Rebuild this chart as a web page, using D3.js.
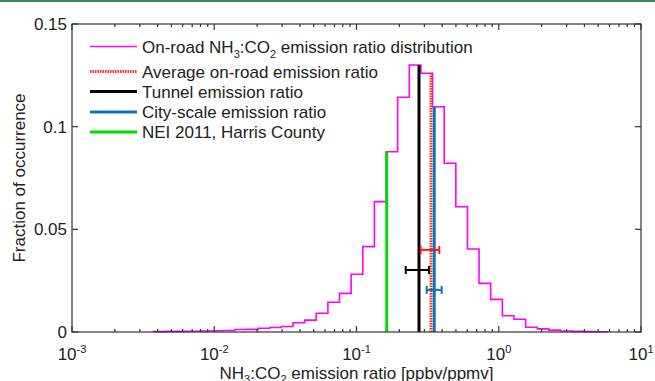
<!DOCTYPE html>
<html lang="en">
<head>
    <meta charset="UTF-8">
    <title>NH3:CO2 emission ratio distribution</title>
    <script src="https://d3js.org/d3.v7.min.js"></script>
    <style>
        body {
            margin: 0;
            background: #fff;
            font-family: "Liberation Sans", Arial, sans-serif;
        }
        svg text {
            fill: #222;
        }
    </style>
</head>
<body>
    <svg id="chart" width="655" height="381"></svg>

    <script>
        const width = 655, height = 381;
        const margin = {top: 24, right: 14, bottom: 49, left: 72};
        const fs = 17;

        // histogram bin edges (ppbv/ppmv) and fraction in each bin
        const binEdges = [0.003736, 0.004511, 0.005445, 0.006573, 0.007934, 0.009578, 0.011562,
            0.013957, 0.016847, 0.020337, 0.024550, 0.029636, 0.035774, 0.043185, 0.052129,
            0.062927, 0.075960, 0.091693, 0.110684, 0.133610, 0.161283, 0.194684, 0.235014,
            0.283792, 0.342530, 0.413571, 0.499190, 0.602560, 0.727290, 0.878001, 1.0600,
            1.2794, 1.5448, 1.8646, 2.2508, 2.7164, 3.2803, 3.9593, 4.7785, 5.7689];
        const fractions = [0.0002, 0.0003, 0.0003, 0.0004, 0.0005, 0.0006, 0.0007, 0.0012,
            0.0013, 0.0018, 0.0022, 0.0027, 0.0045, 0.0058, 0.0091, 0.0145, 0.0188, 0.0281,
            0.0416, 0.0635, 0.0878, 0.1143, 0.1300, 0.1260, 0.1097, 0.0822, 0.0610, 0.0404,
            0.0237, 0.0159, 0.0079, 0.0062, 0.0023, 0.0015, 0.0009, 0.0005, 0.0003, 0.0002, 0.0001];

        // reference ratios (vertical lines) and their ranges (error bars)
        const refLines = [
            {name: "NEI 2011, Harris County", value: 0.163, color: "#00dd00"},
            {name: "Tunnel emission ratio", value: 0.275, color: "#000000"},
            {name: "Average on-road emission ratio", value: 0.334, color: "#ff2a2a", dash: "1.5,1"},
            {name: "City-scale emission ratio", value: 0.352, color: "#0b72bd"}
        ];
        const errorBars = [
            {lo: 0.2827, hi: 0.382, y: 0.0400, color: "#ff1a1a"},
            {lo: 0.2218, hi: 0.3233, y: 0.0302, color: "#000000"},
            {lo: 0.3114, hi: 0.397, y: 0.0205, color: "#0b72bd"}
        ];

        const xTicks = [1e-3, 1e-2, 1e-1, 1e0, 1e1];
        const yTicks = [0, 0.05, 0.1, 0.15];

        const svg = d3.select("#chart");

        // thin green band at the top of the page
        svg.append("rect").attr("x", 0).attr("y", 0).attr("width", width).attr("height", 2)
            .attr("fill", "#3b8a5c");

        const x = d3.scaleLog().domain([1e-3, 10]).range([margin.left, width - margin.right]);
        const y = d3.scaleLinear().domain([0, 0.15]).range([height - margin.bottom, margin.top]);
        const x0 = x.range()[0], x1 = x.range()[1];
        const y0 = y.range()[0], y1 = y.range()[1];

        // histogram as a step line
        const stepPts = [[binEdges[0], 0]];
        fractions.forEach((f, i) => stepPts.push([binEdges[i], f]));
        stepPts.push([binEdges[binEdges.length - 1], fractions[fractions.length - 1]]);
        stepPts.push([binEdges[binEdges.length - 1], 0]);
        const step = d3.line().x(d => x(d[0])).y(d => y(d[1])).curve(d3.curveStepAfter);
        svg.append("path").datum(stepPts)
            .attr("d", step).attr("fill", "none")
            .attr("stroke", "#ff00ff").attr("stroke-width", 1.6);

        function histAt(v) {
            for (let i = 0; i < fractions.length; i++) {
                if (v >= binEdges[i] && v < binEdges[i + 1]) return fractions[i];
            }
            return 0;
        }

        // vertical reference lines
        svg.selectAll(".ref").data(refLines).join("line")
            .attr("class", "ref")
            .attr("x1", d => x(d.value)).attr("x2", d => x(d.value))
            .attr("y1", y(0)).attr("y2", d => y(histAt(d.value)))
            .attr("stroke", d => d.color).attr("stroke-width", 3)
            .attr("stroke-dasharray", d => d.dash || null);

        // horizontal error bars
        const eb = svg.selectAll(".eb").data(errorBars).join("g").attr("class", "eb")
            .attr("stroke", d => d.color).attr("stroke-width", 2);
        eb.append("line").attr("x1", d => x(d.lo)).attr("x2", d => x(d.hi))
            .attr("y1", d => y(d.y)).attr("y2", d => y(d.y));
        eb.append("line").attr("x1", d => x(d.lo)).attr("x2", d => x(d.lo))
            .attr("y1", d => y(d.y) - 4).attr("y2", d => y(d.y) + 4);
        eb.append("line").attr("x1", d => x(d.hi)).attr("x2", d => x(d.hi))
            .attr("y1", d => y(d.y) - 4).attr("y2", d => y(d.y) + 4);

        // axes box with inward ticks
        const axisCol = "#333";
        svg.append("rect").attr("x", x0).attr("y", y1).attr("width", x1 - x0).attr("height", y0 - y1)
            .attr("fill", "none").attr("stroke", axisCol).attr("stroke-width", 1.2);

        const minor = [];
        for (let e = -3; e < 1; e++) {
            for (let m = 2; m <= 9; m++) minor.push(m * Math.pow(10, e));
        }
        const tk = svg.append("g").attr("stroke", axisCol).attr("stroke-width", 1.2);
        xTicks.forEach(t => {
            tk.append("line").attr("x1", x(t)).attr("x2", x(t)).attr("y1", y0).attr("y2", y0 - 6);
            tk.append("line").attr("x1", x(t)).attr("x2", x(t)).attr("y1", y1).attr("y2", y1 + 6);
        });
        minor.forEach(t => {
            tk.append("line").attr("x1", x(t)).attr("x2", x(t)).attr("y1", y0).attr("y2", y0 - 3);
            tk.append("line").attr("x1", x(t)).attr("x2", x(t)).attr("y1", y1).attr("y2", y1 + 3);
        });
        yTicks.forEach(t => {
            tk.append("line").attr("x1", x0).attr("x2", x0 + 6).attr("y1", y(t)).attr("y2", y(t));
            tk.append("line").attr("x1", x1).attr("x2", x1 - 6).attr("y1", y(t)).attr("y2", y(t));
        });

        // tick labels
        svg.selectAll(".ylab").data(yTicks).join("text")
            .attr("class", "ylab")
            .attr("x", x0 - 5).attr("y", d => y(d) + 6)
            .attr("text-anchor", "end").attr("font-size", fs)
            .text(d => d === 0 ? "0" : String(d));

        const xl = svg.selectAll(".xlab").data(xTicks).join("text")
            .attr("class", "xlab")
            .attr("x", d => x(d)).attr("y", y0 + 28)
            .attr("text-anchor", "middle").attr("font-size", fs);
        xl.append("tspan").text("10");
        xl.append("tspan").attr("dy", -7).attr("font-size", 11)
            .text(d => String(Math.round(Math.log10(d))));

        // axis titles
        const xt = svg.append("text").attr("x", (x0 + x1) / 2).attr("y", y0 + 47)
            .attr("text-anchor", "middle").attr("font-size", fs);
        xt.append("tspan").text("NH");
        xt.append("tspan").attr("dy", 4).attr("font-size", 11).text("3");
        xt.append("tspan").attr("dy", -4).text(":CO");
        xt.append("tspan").attr("dy", 4).attr("font-size", 11).text("2");
        xt.append("tspan").attr("dy", -4).text(" emission ratio [ppbv/ppmv]");

        svg.append("text")
            .attr("transform", `translate(25,${(y0 + y1) / 2}) rotate(-90)`)
            .attr("text-anchor", "middle").attr("font-size", fs)
            .text("Fraction of occurrence");

        // legend
        const legend = [
            {label: null, color: "#ff00ff", w: 1.6, y: 46.5},
            {label: refLines[2].name, color: "#ff2a2a", w: 3, dash: "1.5,1", y: 71.5},
            {label: refLines[1].name, color: "#000000", w: 3, y: 91.5},
            {label: refLines[3].name, color: "#0b72bd", w: 3, y: 112},
            {label: refLines[0].name, color: "#00dd00", w: 3, y: 132}
        ];
        const lg = svg.selectAll(".lg").data(legend).join("g").attr("class", "lg");
        lg.append("line").attr("x1", 90).attr("x2", 137)
            .attr("y1", d => d.y).attr("y2", d => d.y)
            .attr("stroke", d => d.color).attr("stroke-width", d => d.w)
            .attr("stroke-dasharray", d => d.dash || null);
        lg.filter(d => d.label).append("text")
            .attr("x", 142).attr("y", d => d.y + 6).attr("font-size", fs)
            .text(d => d.label);

        const first = svg.append("text").attr("x", 142).attr("y", legend[0].y + 6).attr("font-size", fs);
        first.append("tspan").text("On-road NH");
        first.append("tspan").attr("dy", 5).attr("font-size", 11).text("3");
        first.append("tspan").attr("dy", -5).text(":CO");
        first.append("tspan").attr("dy", 5).attr("font-size", 11).text("2");
        first.append("tspan").attr("dy", -5).text(" emission ratio distribution");
    </script>
</body>
</html>
